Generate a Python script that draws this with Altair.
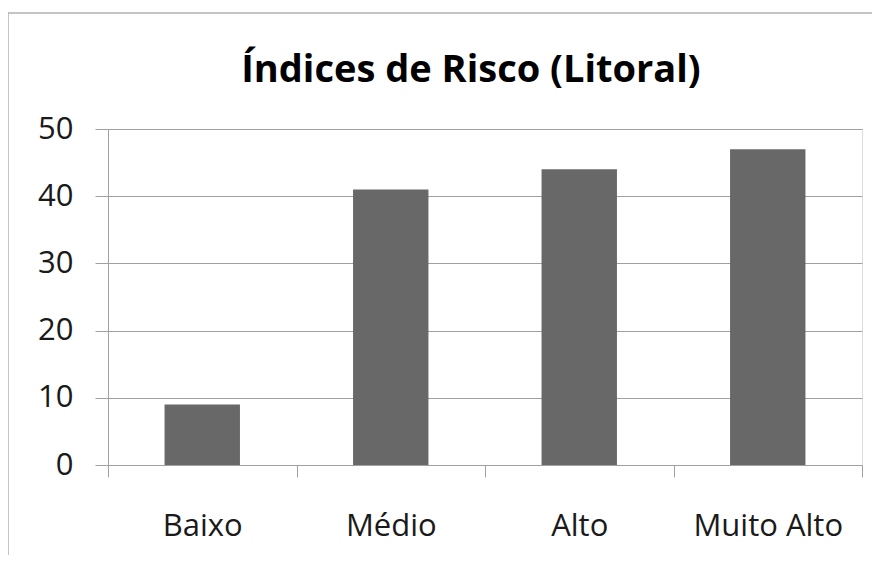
import altair as alt
import pandas as pd

categories = ["Baixo", "Médio", "Alto", "Muito Alto"]
values = [9, 41, 44, 47]
y_ticks = [0, 10, 20, 30, 40, 50]
title_text = "Índices de Risco (Litoral)"

FONT = "Open Sans"
GRID = "#a0a0a0"

df = pd.DataFrame({"cat": categories, "val": values})
frame_df = pd.DataFrame({"k": [0]})

bars = alt.Chart(df).mark_bar(color="#686868", width=alt.RelativeBandSize(0.4)).encode(
    x=alt.X(
        "cat:N", sort=categories, title=None,
        scale=alt.Scale(paddingInner=0, paddingOuter=0),
        axis=alt.Axis(
            labelAngle=0, labelFont=FONT, labelFontSize=31, labelColor="#1a1a1a",
            tickBand="extent", ticks=True, tickSize=12, tickColor=GRID,
            domainColor=GRID, labelPadding=58, grid=False,
            labelBaseline="alphabetic",
        ),
    ),
    y=alt.Y(
        "val:Q", title=None,
        scale=alt.Scale(domain=[0, 50], nice=False),
        axis=alt.Axis(
            values=y_ticks, labelFont=FONT, labelFontSize=31, labelColor="#1a1a1a",
            tickSize=13, labelPadding=22, gridColor=GRID, domainColor=GRID,
            tickColor=GRID,
        ),
    ),
)

left_border = alt.Chart(frame_df).mark_rule(color="#b0b0b0", strokeWidth=1.5).encode(
    x=alt.value(-100), y=alt.value(-116), y2=alt.value(430)
)
top_border = alt.Chart(frame_df).mark_rule(color="#b0b0b0", strokeWidth=1.5).encode(
    x=alt.value(-100), x2=alt.value(764), y=alt.value(-116)
)

chart = alt.layer(bars, left_border, top_border).properties(
    width=754,
    height=336,
    padding={"left": 100, "top": 121, "right": 10, "bottom": 90},
    autosize=alt.AutoSizeParams(type="none"),
    title=alt.TitleParams(
        title_text, font=FONT, fontSize=38, fontWeight="bold", anchor="middle",
        frame="group", baseline="alphabetic", offset=-108, dx=-14, color="black",
    ),
).configure_view(stroke=None).configure(background="white")

chart.save("out.html", embed_options={"renderer": "svg", "actions": False})
